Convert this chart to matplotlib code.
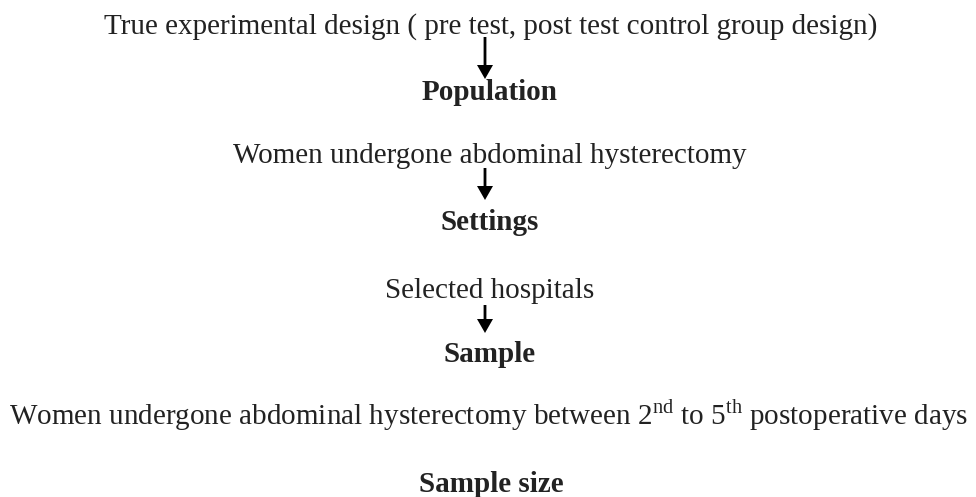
import matplotlib
matplotlib.use('Agg')
from matplotlib import pyplot as plt

plt.rcParams['font.family'] = ['Liberation Serif', 'DejaVu Serif']
plt.rcParams['mathtext.fontset'] = 'custom'
plt.rcParams['mathtext.rm'] = 'Liberation Serif'

# flowchart content (pixel layout, y measured from top)
labels = [
    'True experimental design ( pre test, post test control group design)',
    'Population',
    'Women undergone abdominal hysterectomy',
    'Settings',
    'Selected hospitals',
    'Sample',
    r'Women undergone abdominal hysterectomy between 2$^{\mathrm{nd}}$ to 5$^{\mathrm{th}}$ postoperative days',
    'Sample size',
]
bold = [False, True, False, True, False, True, False, True]
baselines = [34, 100, 163, 230, 298, 362, 425, 492]
centers_x = [491, 490, 490, 490, 490, 490, 489, 491]

arrow_x = [485, 485, 485]
arrow_top = [37, 168, 305]
arrow_tip = [79, 200, 333]

W, H = 976, 497
fig = plt.figure(figsize=(W / 100, H / 100), dpi=100)
ax = fig.add_axes([0, 0, 1, 1])
ax.set_xlim(0, W)
ax.set_ylim(H, 0)
ax.axis('off')

for txt, b, y, x in zip(labels, bold, baselines, centers_x):
    ax.text(x, y, txt, ha='center', va='baseline', fontsize=21,
            fontweight='bold' if b else 'normal', color='#222222')

for x, y0, y1 in zip(arrow_x, arrow_top, arrow_tip):
    ax.arrow(x, y0, 0, y1 - y0, width=2.8, head_width=16, head_length=14,
             length_includes_head=True, color='black', lw=0)

fig.savefig('out.png', dpi=100)
